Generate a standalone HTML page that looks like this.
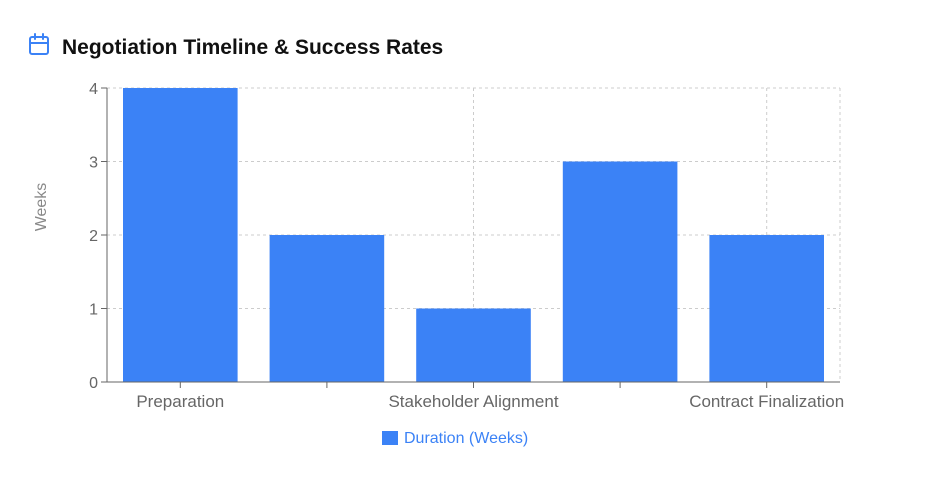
<!DOCTYPE html>
<html><head><meta charset="utf-8"><style>
body{margin:0;background:#fff;width:947px;height:481px;overflow:hidden;font-family:"Liberation Sans","DejaVu Sans",sans-serif;}
</style></head><body>
<svg width="947" height="481">
  <g fill="none" stroke="#3b82f6" stroke-width="2" stroke-linecap="round">
    <rect x="30" y="37" width="18" height="17" rx="2"/>
    <line x1="30" y1="43" x2="48" y2="43"/>
    <line x1="35" y1="34" x2="35" y2="39"/>
    <line x1="43" y1="34" x2="43" y2="39"/>
  </g>
  <text x="62" y="54" font-size="21" font-weight="bold" fill="#111">Negotiation Timeline &amp; Success Rates</text>
  <g id="plot"></g>
  <text transform="translate(46,207) rotate(-90)" text-anchor="middle" font-size="16" fill="#888">Weeks</text>
  <g>
    <rect x="382" y="431" width="16" height="14" fill="#3b82f6"/>
    <text x="404" y="443" font-size="16" fill="#3b82f6">Duration (Weeks)</text>
  </g>
</svg>
<script>
const categories=["Preparation","Initial Offer","Stakeholder Alignment","Counteroffers","Contract Finalization"];
const durations=[4,2,1,3,2];
const yTicks=[0,1,2,3,4];
const ns="http://www.w3.org/2000/svg";
const X0=107,X1=840,Y0=382,Y1=88,YMAX=4;
const band=(X1-X0)/categories.length;
const y=v=>Y0-(v/YMAX)*(Y0-Y1);
const xc=i=>X0+band*(i+0.5);
const g=document.getElementById('plot');
function mk(t,a){const e=document.createElementNS(ns,t);for(const k in a)e.setAttribute(k,a[k]);g.appendChild(e);return e;}
yTicks.forEach(t=>{
  if(t>0){const l=mk('line',{x1:X0,x2:X1,y1:y(t),y2:y(t),stroke:'#ccc','stroke-dasharray':'3 3'});
  
  }
  const tk=mk('line',{x1:X0-6,x2:X0,y1:y(t),y2:y(t),stroke:'#666'});
  
  
  const tx=mk('text',{x:X0-9,y:y(t)+6,'text-anchor':'end','font-size':16,fill:'#666'});
  tx.textContent=t;
  
  
});
categories.forEach((c,i)=>{
  if(i%2===0){const l=mk('line',{x1:xc(i),x2:xc(i),y1:Y1,y2:Y0,stroke:'#ccc','stroke-dasharray':'3 3'});
  
  }
});
{const l=mk('line',{x1:X1,x2:X1,y1:Y1,y2:Y0,stroke:'#ccc','stroke-dasharray':'3 3'});

}
categories.forEach((c,i)=>{
  const bw=band-32;
  const r=mk('rect',{x:xc(i)-bw/2,y:y(durations[i]),width:bw,height:Y0-y(durations[i]),fill:'#3b82f6'});
  
  
  const tk=mk('line',{x1:xc(i),x2:xc(i),y1:Y0,y2:Y0+6,stroke:'#666'});
  
  
  if(i%2===0){const tx=mk('text',{x:xc(i),y:Y0+25,'text-anchor':'middle','font-size':17,fill:'#666'});
  tx.textContent=c;
  
  }
});
{const a=mk('line',{x1:X0,x2:X0,y1:Y1,y2:Y0,stroke:'#666'});


const b=mk('line',{x1:X0,x2:X1,y1:Y0,y2:Y0,stroke:'#666'});

}
</script>
</body></html>
